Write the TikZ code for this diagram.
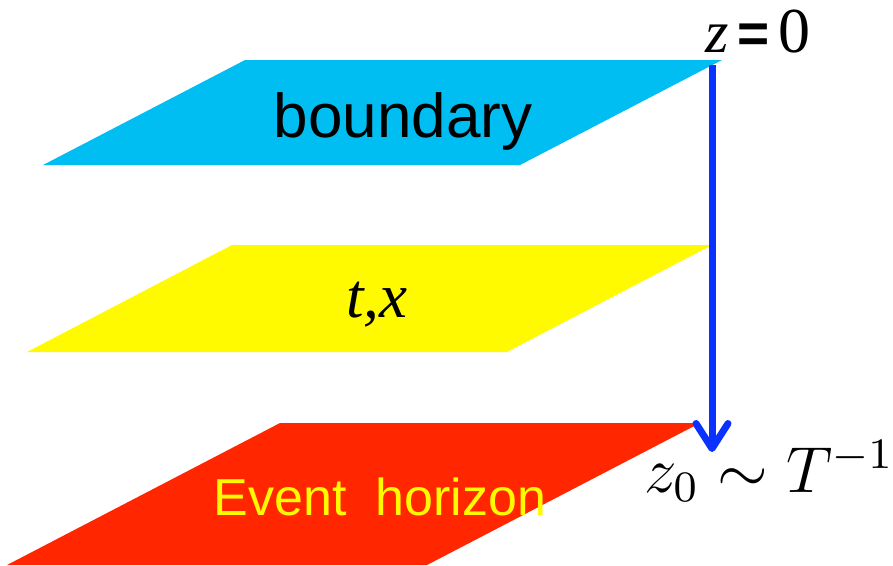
\documentclass[tikz,border=0pt]{standalone}
\usepackage{fontspec}
\setmainfont{Liberation Serif}
\newfontfamily\arialf{Liberation Sans}
\usetikzlibrary{arrows.meta}
\definecolor{bdcyan}{HTML}{00BEF2}
\definecolor{midyellow}{HTML}{FFFA00}
\definecolor{horred}{HTML}{FF2600}
\definecolor{arrblue}{HTML}{0A32FF}
\begin{document}
\begin{tikzpicture}[x=0.2pt,y=-0.2pt,
  lbl/.style={inner sep=0pt,outer sep=0pt,anchor=base}]
\useasboundingbox (0,0) rectangle (893,565);
% planes
\fill[bdcyan] (245,60) -- (722,60) -- (520,165) -- (43,165) -- cycle;
\fill[midyellow] (232,245) -- (712,245) -- (507,352) -- (27,352) -- cycle;
\fill[horred] (280,423) -- (700,423) -- (427,565) -- (7,565) -- cycle;
% labels
\node[lbl] (bnd) at (403,137) {\fontsize{12.4}{14}\selectfont\arialf boundary};
\node[lbl] (tx) at (377,317) {\fontsize{12.6}{14}\selectfont\itshape t,x};
\node[lbl,text=midyellow] (eh) at (380,515) {\fontsize{10.4}{12}\selectfont\arialf Event~~horizon};
\node[lbl,anchor=base west] (zz) at (705,52) {\fontsize{12}{14}\selectfont\itshape z\upshape\hspace{1.9pt}{\fontsize{11}{14}\selectfont\arialf\bfseries =}\hspace{1.7pt}{\fontsize{12.8}{14}\selectfont 0}};
\node[lbl,anchor=base west,scale=1.085] (zo) at (644,492) {\fontsize{12}{14}\selectfont$z_0\sim T^{-1}$};
% arrow
\coordinate (atop) at (712,65);
\coordinate (abot) at (712,452);
\draw[arrblue,line width=1.4pt,-{Straight Barb[length=5pt,width=6.4pt,line cap=round,line join=round]}] (atop) -- (abot);
\end{tikzpicture}
\end{document}
